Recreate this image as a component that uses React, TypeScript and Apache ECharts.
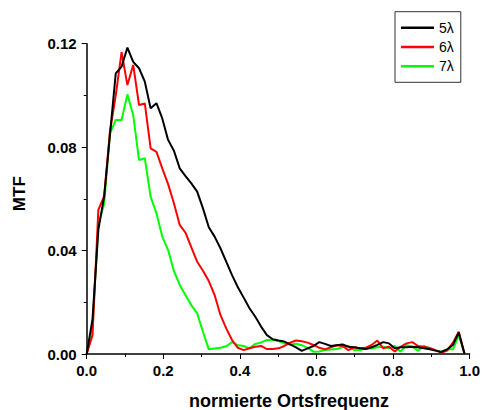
import React, { useEffect, useRef } from "react";
import * as echarts from "echarts";

const freqs = [
  0, 0.0152, 0.0304, 0.0456, 0.0607, 0.0759, 0.0911, 0.1063, 0.1215, 0.1367,
  0.1518, 0.167, 0.1822, 0.1974, 0.2126, 0.2278, 0.243, 0.2581, 0.2733, 0.2885,
  0.3037, 0.3189, 0.3341, 0.3493, 0.3644, 0.3796, 0.3948, 0.41, 0.4252, 0.4404,
  0.4555, 0.4707, 0.4859, 0.5011, 0.5163, 0.5314, 0.5466, 0.5618, 0.577, 0.5922,
  0.6074, 0.6225, 0.6377, 0.6529, 0.6681, 0.6833, 0.6985, 0.7136, 0.7288, 0.744,
  0.7592, 0.7744, 0.7895, 0.8047, 0.8199, 0.8351, 0.8503, 0.8655, 0.8806, 0.8958,
  0.911, 0.9262, 0.9414, 0.9566, 0.9717, 0.9869,
];

const mtf5 = [
  0, 0.0135, 0.048, 0.061, 0.0847, 0.1085, 0.1111, 0.1185, 0.113, 0.1105,
  0.1053, 0.095, 0.097, 0.0911, 0.0828, 0.0786, 0.0718, 0.0688, 0.066, 0.0628,
  0.0563, 0.049, 0.0454, 0.0409, 0.0357, 0.0305, 0.0258, 0.0218, 0.0177, 0.0144,
  0.0106, 0.0073, 0.0057, 0.0052, 0.0048, 0.0037, 0.0026, 0.0012, 0.0022, 0.0031,
  0.0046, 0.0039, 0.0031, 0.0034, 0.0037, 0.0028, 0.0026, 0.0022, 0.0019, 0.0026,
  0.0035, 0.0046, 0.0041, 0.0022, 0.0026, 0.0026, 0.0028, 0.0026, 0.0022, 0.0018,
  0.0013, 0.0008, 0.0018, 0.0035, 0.0083, 0,
];

const mtf6 = [
  0, 0.0073, 0.0557, 0.061, 0.086, 0.1, 0.1167, 0.104, 0.1118, 0.0963,
  0.0969, 0.0795, 0.0782, 0.0718, 0.0657, 0.0583, 0.0499, 0.0469, 0.0412, 0.0357,
  0.0322, 0.0282, 0.0228, 0.0151, 0.0099, 0.0054, 0.0024, 0.0015, 0.0022, 0.0028,
  0.0031, 0.0019, 0.0019, 0.0022, 0.0031, 0.0044, 0.0052, 0.0049, 0.0044, 0.0035,
  0.0024, 0.0018, 0.0026, 0.0034, 0.0031, 0.0015, 0.0026, 0.0022, 0.0024, 0.0035,
  0.0052, 0.0022, 0.0028, 0.001, 0.0028, 0.0041, 0.0046, 0.0031, 0.0028, 0.0023,
  0.0015, 0.0005, 0.0013, 0.0044, 0.0086, 0,
];

const mtf7 = [
  0, 0.011, 0.05, 0.058, 0.0853, 0.0905, 0.0905, 0.1004, 0.0924, 0.075,
  0.0757, 0.0608, 0.0544, 0.0454, 0.0402, 0.0321, 0.0267, 0.0227, 0.0189, 0.0157,
  0.0086, 0.0018, 0.0021, 0.0024, 0.003, 0.0046, 0.0034, 0.0031, 0.0022, 0.0039,
  0.0045, 0.0054, 0.0054, 0.005, 0.0041, 0.0036, 0.004, 0.0034, 0.0024, 0.0009,
  0.001, 0.0015, 0.0017, 0.0019, 0.0026, 0.0032, 0.0015, 0.0015, 0.0021, 0.0021,
  0.0026, 0.0028, 0.0022, 0.0031, 0.0009, 0.0035, 0.0028, 0.0013, 0.0031, 0.0022,
  0.0013, 0.0009, 0.0018, 0.0018, 0.0073, 0,
];

const seriesNames = ["5λ", "6λ", "7λ"];
const seriesColors = ["#000000", "#ff0000", "#00ff00"];
const xTitle = "normierte Ortsfrequenz";
const yTitle = "MTF";

const FONT = "'Liberation Sans', Arial, sans-serif";

export default function App() {
  const ref = useRef<HTMLDivElement>(null);
  useEffect(() => {
    if (!ref.current) return;
    const chart = echarts.init(ref.current, undefined, { renderer: "svg" });
    const all = [mtf5, mtf6, mtf7];
    chart.setOption({
      animation: false,
      backgroundColor: "#ffffff",
      grid: { left: 86.7, right: 12.3, top: 43.7, bottom: 56 },
      xAxis: {
        type: "value",
        min: 0,
        max: 1,
        interval: 0.2,
        axisLine: { show: true, lineStyle: { color: "#000", width: 1.5 } },
        axisTick: { show: true, inside: false, length: 5, lineStyle: { color: "#000", width: 1 } },
        minorTick: { show: true, splitNumber: 2, length: 3, lineStyle: { color: "#000", width: 1 } },
        splitLine: { show: false },
        axisLabel: {
          margin: 9,
          color: "#000",
          fontFamily: FONT,
          fontSize: 15,
          fontWeight: "bold",
          formatter: (v: number) => v.toFixed(1),
        },
      },
      yAxis: {
        type: "value",
        min: 0,
        max: 0.12,
        interval: 0.04,
        axisLine: { show: true, lineStyle: { color: "#000", width: 1.5 } },
        axisTick: { show: true, inside: false, length: 5, lineStyle: { color: "#000", width: 1 } },
        minorTick: { show: true, splitNumber: 2, length: 3, lineStyle: { color: "#000", width: 1 } },
        splitLine: { show: false },
        axisLabel: {
          margin: 10,
          color: "#000",
          fontFamily: FONT,
          fontSize: 15,
          fontWeight: "bold",
          formatter: (v: number) => v.toFixed(2),
        },
      },
      legend: {
        show: true,
        orient: "vertical",
        left: 395,
        top: 11.7,
        data: seriesNames,
        icon: "rect",
        borderColor: "#333",
        borderWidth: 1,
        padding: [9, 7, 9, 6],
        itemWidth: 33,
        itemHeight: 2.5,
        itemGap: 5.3,
        textStyle: { color: "#000", fontFamily: FONT, fontSize: 14, lineHeight: 14 },
      },
      graphic: [
        {
          type: "text",
          x: 19,
          y: 193.7,
          rotation: Math.PI / 2,
          style: {
            text: yTitle,
            fill: "#000",
            font: `bold 17px ${FONT}`,
            textAlign: "center",
            textVerticalAlign: "middle",
          },
        },
        {
          type: "text",
          x: 289,
          y: 401,
          style: {
            text: xTitle,
            fill: "#000",
            font: `bold 18px ${FONT}`,
            textAlign: "center",
            textVerticalAlign: "middle",
          },
        },
      ],
      series: seriesNames.map((name, k) => ({
        name,
        type: "line",
        symbol: "none",
        data: freqs.map((f, i) => [f, all[k][i]]),
        lineStyle: { color: seriesColors[k], width: 2 },
        itemStyle: { color: seriesColors[k] },
        z: 10 - k,
      })),
    });
    return () => chart.dispose();
  }, []);
  return (
    <div style={{ position: "absolute", left: 0, top: 0 }}>
      <div ref={ref} style={{ width: 483, height: 410 }} />
    </div>
  );
}
